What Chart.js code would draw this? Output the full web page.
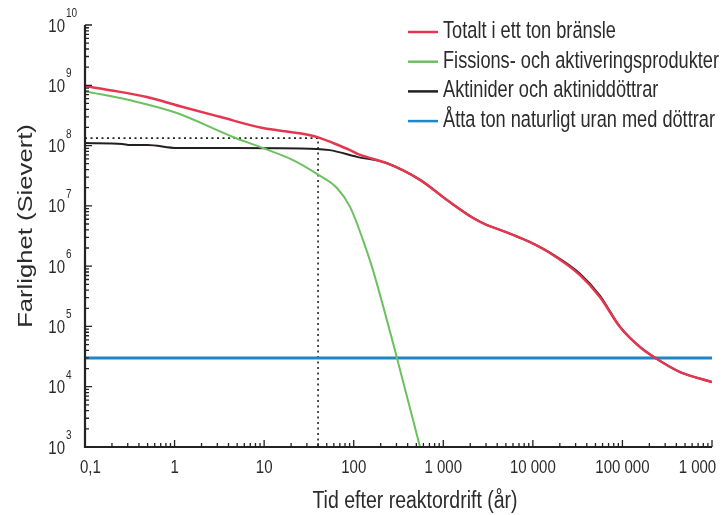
<!DOCTYPE html>
<html>
<head>
<meta charset="utf-8">
<title>Farlighet</title>
<script src="https://cdn.jsdelivr.net/npm/chart.js@4.4.1/dist/chart.umd.min.js"></script>
<style>
  html, body { margin: 0; padding: 0; background: #fff; }
  canvas { display: block; }
</style>
</head>
<body>
<canvas id="chart" width="722" height="515"></canvas>
<script>
// values (years, Sievert)
const totalYears = [0.1, 0.19, 0.49, 1.15, 3.2, 9.7, 19.5, 25, 40, 59, 91, 112, 235, 550, 1100, 2150, 3080, 4300, 6000, 9300, 15500, 33600, 56000, 94000, 157000, 243000, 440000, 1000000];
const totalValues = [9.7e8, 8.3e8, 6.4e8, 4.5e8, 3.0e8, 1.95e8, 1.68e8, 1.6e8, 1.37e8, 1.1e8, 8.4e7, 7.2e7, 5.1e7, 2.7e7, 1.25e7, 6.3e6, 4.8e6, 4.0e6, 3.3e6, 2.5e6, 1.65e6, 7.1e5, 3.08e5, 9.8e4, 4.56e4, 2.88e4, 1.75e4, 1.2e4];

const fissionYears = [0.1, 0.38, 1.06, 4.5, 9.7, 21, 40, 65, 91, 127, 164, 304, 550];
const fissionValues = [8.0e8, 5.3e8, 3.47e8, 1.39e8, 9.1e7, 5.75e7, 3.3e7, 1.98e7, 9.6e6, 2.7e6, 8.6e5, 3.0e4, 1.0e3];

const actinideYears = [0.1, 0.26, 0.32, 0.5, 1.06, 4.5, 39, 54, 109, 235, 550, 1100, 2150, 3080, 4300, 6000, 9300, 15500, 33600, 56000, 94000, 157000, 243000, 440000, 1000000];
const actinideValues = [1.1e8, 1.06e8, 1.02e8, 1.02e8, 9.1e7, 9.1e7, 8.8e7, 8.4e7, 6.5e7, 5.1e7, 2.7e7, 1.25e7, 6.3e6, 4.8e6, 4.0e6, 3.3e6, 2.5e6, 1.68e6, 7.5e5, 3.25e5, 9.8e4, 4.56e4, 2.88e4, 1.75e4, 1.2e4];

const uraniumYears = [0.1, 1000000];
const uraniumValues = [3.0e4, 3.0e4];

const markYear = 40;
const markValue = 1.33e8;

const xTickValues = [0.1, 1, 10, 100, 1000, 10000, 100000, 1000000];
const xTickLabels = ['0,1', '1', '10', '100', '1 000', '10 000', '100 000', '1 000 000'];
const yExponents = [3, 4, 5, 6, 7, 8, 9, 10];

const seriesLabels = ['Totalt i ett ton bränsle', 'Fissions- och aktiveringsprodukter', 'Aktinider och aktiniddöttrar', 'Åtta ton naturligt uran med döttrar'];
const seriesColors = ['#e4364e', '#6cc05f', '#231f20', '#1d86c6'];

const toPoints = (xs, ys) => xs.map((x, i) => ({ x: x, y: ys[i] }));

const FONT = "'Liberation Sans', Arial, sans-serif";
const TEXT = '#2b2b2b';
const STRETCH = 1.25; // the original picture is stretched vertically

function drawText(ctx, text, x, y, size, align, sy) {
  ctx.save();
  ctx.translate(x, y);
  ctx.scale(1, sy);
  ctx.font = size + 'px ' + FONT;
  ctx.textAlign = align;
  ctx.textBaseline = 'alphabetic';
  ctx.fillStyle = TEXT;
  ctx.fillText(text, 0, 0);
  ctx.restore();
}

const axesPlugin = {
  id: 'axes',
  afterDatasetsDraw(chart) {
    const { ctx, chartArea: a, scales } = chart;
    const xs = scales.x, ys = scales.y;

    ctx.save();
    ctx.strokeStyle = '#222';
    ctx.lineWidth = 2.2;
    ctx.beginPath();
    ctx.moveTo(a.left, a.top);
    ctx.lineTo(a.left, a.bottom);
    ctx.lineTo(a.right, a.bottom);
    ctx.stroke();

    // tick marks, pointing into the plot
    ctx.lineWidth = 1.3;
    ctx.beginPath();
    for (let e = -1; e <= 6; e++) {
      for (let m = 1; m <= 9; m++) {
        const v = m * Math.pow(10, e);
        if (v > 1e6 * 1.0001) break;
        const px = xs.getPixelForValue(v);
        const len = m === 1 ? 7 : 4;
        ctx.moveTo(px, a.bottom);
        ctx.lineTo(px, a.bottom - len);
      }
    }
    for (let e = 3; e <= 10; e++) {
      for (let m = 1; m <= 9; m++) {
        const v = m * Math.pow(10, e);
        if (v > 1e10 * 1.0001) break;
        const py = ys.getPixelForValue(v);
        const len = m === 1 ? 7 : 4;
        ctx.moveTo(a.left, py);
        ctx.lineTo(a.left + len, py);
      }
    }
    ctx.stroke();
    ctx.restore();

    // x tick labels (the original picture is cut just after "1 000")
    ctx.save();
    ctx.beginPath();
    ctx.rect(0, a.bottom, 716, 40);
    ctx.clip();
    xTickValues.forEach((v, i) => {
      const px = xs.getPixelForValue(v);
      if (i === 0) drawText(ctx, xTickLabels[i], px - 5, 473, 15, 'left', STRETCH);
      else drawText(ctx, xTickLabels[i], px, 473, 15, 'center', STRETCH);
    });
    ctx.restore();

    // y tick labels as powers of ten
    yExponents.forEach(e => {
      const py = ys.getPixelForValue(Math.pow(10, e));
      drawText(ctx, '10', 65, py + 6.5, 15, 'right', STRETCH);
      drawText(ctx, String(e), 66, py - 8, 10, 'left', STRETCH);
    });

    // axis titles
    drawText(ctx, 'Tid efter reaktordrift (år)', 415, 508, 19.5, 'center', STRETCH);
    ctx.save();
    ctx.translate(32, 226);
    ctx.rotate(-Math.PI / 2);
    ctx.scale(STRETCH, 1);
    ctx.font = '20.5px ' + FONT;
    ctx.textAlign = 'center';
    ctx.textBaseline = 'alphabetic';
    ctx.fillStyle = TEXT;
    ctx.fillText('Farlighet (Sievert)', 0, 0);
    ctx.restore();

    // legend
    chart.data.datasets.forEach((ds, i) => {
      if (!ds.label) return;
      const ly = 32 + i * 29.7;
      ctx.save();
      ctx.strokeStyle = ds.borderColor;
      ctx.lineWidth = 2.5;
      ctx.beginPath();
      ctx.moveTo(408, ly);
      ctx.lineTo(438, ly);
      ctx.stroke();
      ctx.restore();
      drawText(ctx, ds.label, 443, ly + 6, 18.2, 'left', 1.3);
    });
  }
};

const ctx = document.getElementById('chart');
const myChart = new Chart(ctx, {
  type: 'line',
  data: {
    datasets: [
      {
        label: seriesLabels[0],
        data: toPoints(totalYears, totalValues),
        borderColor: seriesColors[0],
        borderWidth: 2.5
      },
      {
        label: seriesLabels[1],
        data: toPoints(fissionYears, fissionValues),
        borderColor: seriesColors[1],
        borderWidth: 2
      },
      {
        label: seriesLabels[2],
        data: toPoints(actinideYears, actinideValues),
        borderColor: seriesColors[2],
        borderWidth: 2
      },
      {
        label: seriesLabels[3],
        data: toPoints(uraniumYears, uraniumValues),
        borderColor: seriesColors[3],
        borderWidth: 3,
        cubicInterpolationMode: 'default',
        tension: 0
      },
      {
        data: [{ x: 0.1, y: markValue }, { x: markYear, y: markValue }, { x: markYear, y: 1e3 }],
        borderColor: '#222',
        borderWidth: 1.6,
        borderDash: [2, 3.5],
        cubicInterpolationMode: 'default',
        tension: 0
      }
    ]
  },
  options: {
    responsive: false,
    animation: false,
    events: [],
    layout: { padding: { left: 85, top: 25, right: 10, bottom: 68 } },
    elements: {
      point: { radius: 0 },
      line: { cubicInterpolationMode: 'monotone', fill: false }
    },
    plugins: {
      legend: { display: false },
      tooltip: { enabled: false }
    },
    scales: {
      x: { type: 'logarithmic', min: 0.1, max: 1000000, display: false },
      y: { type: 'logarithmic', min: 1000, max: 1e10, display: false }
    }
  },
  plugins: [axesPlugin]
});
</script>
</body>
</html>
